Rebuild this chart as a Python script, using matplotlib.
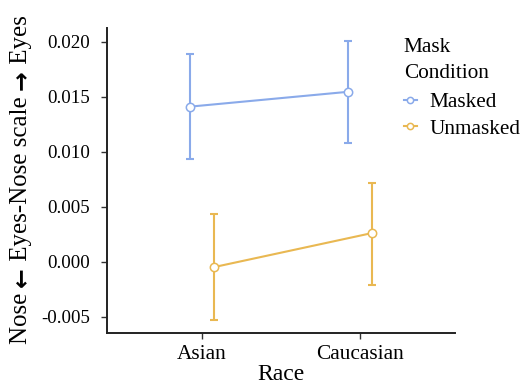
import matplotlib.pyplot as plt
import numpy as np

races = ["Asian", "Caucasian"]
conditions = ["Masked", "Unmasked"]
colors = {"Masked": "#8aaaea", "Unmasked": "#e9b852"}

means = {"Masked": [0.0141, 0.01545], "Unmasked": [-0.0005, 0.0026]}
lower = {"Masked": [0.0093, 0.0108], "Unmasked": [-0.0053, -0.0021]}
upper = {"Masked": [0.0189, 0.0201], "Unmasked": [0.0043, 0.0072]}

yticks = [-0.005, 0.0, 0.005, 0.010, 0.015, 0.020]
ylabel_parts = ["Nose ", "\u2190", " Eyes-Nose scale ", "\u2192", " Eyes"]

plt.rcParams["font.family"] = ["Liberation Serif", "DejaVu Serif"]

fig = plt.figure(figsize=(5.21, 3.86), dpi=100)
ax = fig.add_axes([0.2054, 0.1381, 0.8733 - 0.2054, 0.9275 - 0.1381])

x = np.arange(1, len(races) + 1)
dodge = {"Masked": -0.074, "Unmasked": 0.074}
for c in conditions:
    xs = x + dodge[c]
    m = np.array(means[c])
    err = [m - np.array(lower[c]), np.array(upper[c]) - m]
    ax.errorbar(xs, m, yerr=err, color=colors[c], elinewidth=1.5,
                capsize=2.7, capthick=1.5, fmt="none", zorder=2)
    ax.plot(xs, m, color=colors[c], lw=1.5, marker="o", markersize=6,
            markerfacecolor="white", markeredgecolor=colors[c],
            markeredgewidth=1.1, label=c, zorder=3)

ax.set_xlim(0.4, 2.6)
ax.set_ylim(-0.006455, 0.02125)
ax.set_xticks(x)
ax.set_xticklabels(races)
ax.set_yticks(yticks)
ax.set_yticklabels(["%.3f" % t for t in yticks])
ax.tick_params(length=4, width=1, color="#333333")
ax.tick_params(axis="y", labelsize=13.6, pad=8)
ax.tick_params(axis="x", labelsize=15.4, pad=5)
for s in ["top", "right"]:
    ax.spines[s].set_visible(False)
for s in ["left", "bottom"]:
    ax.spines[s].set_linewidth(1.4)
    ax.spines[s].set_color("#222222")

ax.set_xlabel("Race", fontsize=17, labelpad=0)

# y label built from pieces so the arrows can be heavier
fig.canvas.draw()
renderer = fig.canvas.get_renderer()
texts = []
for p in ylabel_parts:
    if p in ("\u2190", "\u2192"):
        t = fig.text(0, 0, p, rotation=90, fontsize=17, family="DejaVu Sans",
                     weight="bold", ha="center", va="bottom")
    else:
        t = fig.text(0, 0, p, rotation=90, fontsize=18, ha="center", va="bottom")
    texts.append(t)
heights = [t.get_window_extent(renderer).height for t in texts]
total = sum(heights)
xc = 21 / 521
ypos = 386 - (180 + total / 2)
for t, h in zip(texts, heights):
    t.set_position((xc, ypos / 386))
    ypos += h

leg = ax.legend(title="Mask\nCondition", loc="upper left", bbox_to_anchor=(0.853, 0.968),
                frameon=False, fontsize=15.3, title_fontsize=15.3, handlelength=0.6,
                markerscale=0.75, handletextpad=0.6, labelspacing=0.3,
                borderpad=0, borderaxespad=0)
leg._legend_box.align = "left"
leg._legend_box.sep = 6.5
leg.get_title().set_linespacing(1.55)

fig.savefig("out.png", dpi=100)
